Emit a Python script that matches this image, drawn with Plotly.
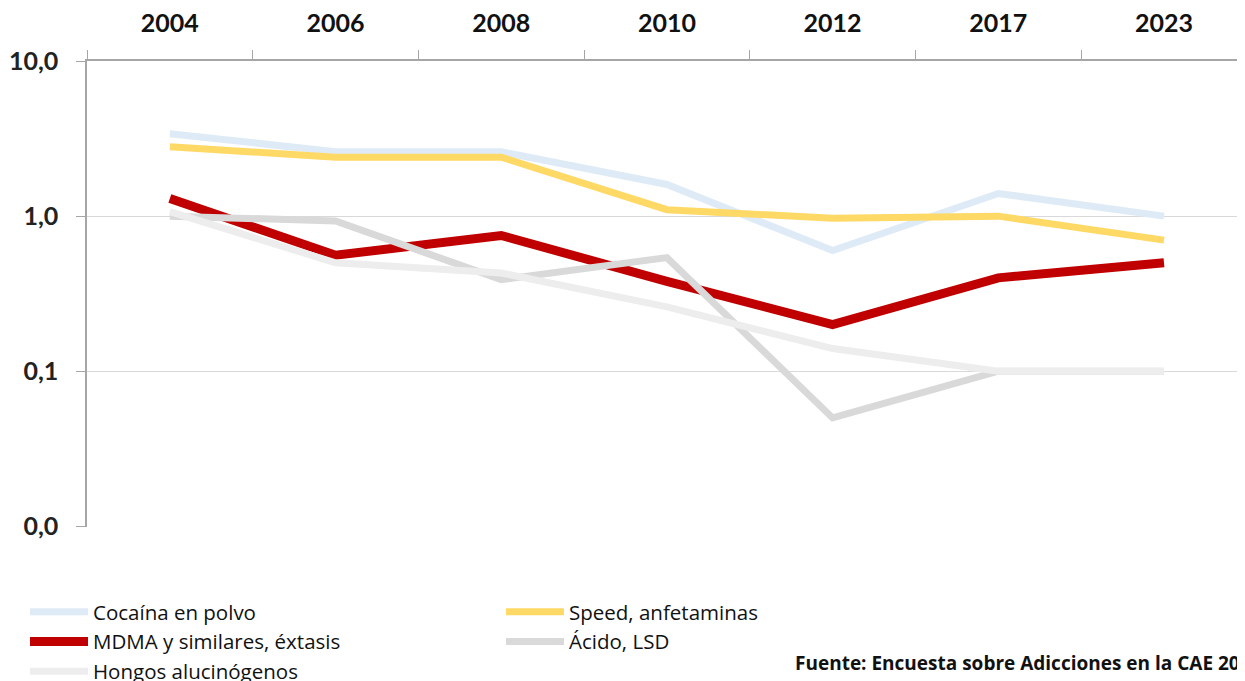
import plotly.graph_objects as go

years = ["2004", "2006", "2008", "2010", "2012", "2017", "2023"]

cocaina = [3.4, 2.6, 2.6, 1.6, 0.6, 1.4, 1.0]
speed = [2.8, 2.4, 2.4, 1.1, 0.97, 1.0, 0.7]
mdma = [1.3, 0.56, 0.75, 0.38, 0.2, 0.4, 0.5]
lsd = [1.0, 0.93, 0.39, 0.54, 0.05, 0.1, 0.1]
hongos = [1.07, 0.5, 0.43, 0.26, 0.14, 0.1, 0.1]

series_names = ["Cocaína en polvo", "Speed, anfetaminas", "MDMA y similares, éxtasis",
                "Ácido, LSD", "Hongos alucinógenos"]
series_values = [cocaina, speed, mdma, lsd, hongos]
series_colors = ["#DEEBF7", "#FFD966", "#C00000", "#D9D9D9", "#EDEDED"]
series_widths = [7, 7, 9, 7, 7]

y_tickvals = [0.01, 0.1, 1, 10]
y_ticktext = ["0,0", "0,1", "1,0", "10,0"]

source_text = "Fuente: Encuesta sobre Adicciones en la CAE 2023"

FONT = "Lato"
LEG_FONT = "Open Sans"

W, H = 1245, 681

fig = go.Figure()
for name, vals, col, w in zip(series_names, series_values, series_colors, series_widths):
    fig.add_trace(go.Scatter(
        x=years, y=vals, name=name, mode="lines",
        line=dict(color=col, width=w),
        hoverinfo="x+y+name",
    ))

fig.update_layout(
    width=W, height=H,
    margin=dict(l=79, r=8, t=53, b=162, autoexpand=False),
    paper_bgcolor="white", plot_bgcolor="white",
    font=dict(family=FONT, color="#222222"),
    showlegend=True,
    legend=dict(
        orientation="h",
        x=17 / W, xref="container", xanchor="left",
        y=(H - 584) / H, yref="container", yanchor="top",
        entrywidth=403, entrywidthmode="pixels",
        itemwidth=58,
        font=dict(size=20.5, color="#111111", family=LEG_FONT),
        tracegroupgap=0,
        bgcolor="rgba(0,0,0,0)",
    ),
    annotations=[dict(
        text="<b>" + source_text + "</b>",
        xref="paper", yref="paper", x=(793 - 87) / 1158, y=-(663 - 527) / 466,
        xanchor="left", yanchor="middle", showarrow=False,
        font=dict(size=19, color="#111111", family=LEG_FONT),
    )],
)

fig.update_xaxes(
    type="category", categoryorder="array", categoryarray=years,
    range=[-0.5, 6.489], side="top", automargin=False,
    showline=True, linecolor="#A6A6A6", linewidth=1.5,
    ticks="outside", tickson="boundaries", ticklen=9, tickcolor="#A6A6A6", tickwidth=1,
    ticklabelstandoff=17,
    showgrid=False, zeroline=False,
    tickfont=dict(size=25, color="#111111", family=FONT, weight="bold"),
)
fig.update_yaxes(
    type="log", range=[-2.004, 1], automargin=False,
    tickvals=y_tickvals, ticktext=y_ticktext,
    showline=True, linecolor="#A6A6A6", linewidth=1.5,
    ticks="outside", ticklen=9, tickcolor="#A6A6A6", tickwidth=1,
    ticklabelstandoff=13,
    showgrid=True, gridcolor="#D9D9D9", gridwidth=1.2,
    zeroline=False,
    tickfont=dict(size=25, color="#222222", family=FONT, weight="bold"),
)

fig.write_html("out.html")
